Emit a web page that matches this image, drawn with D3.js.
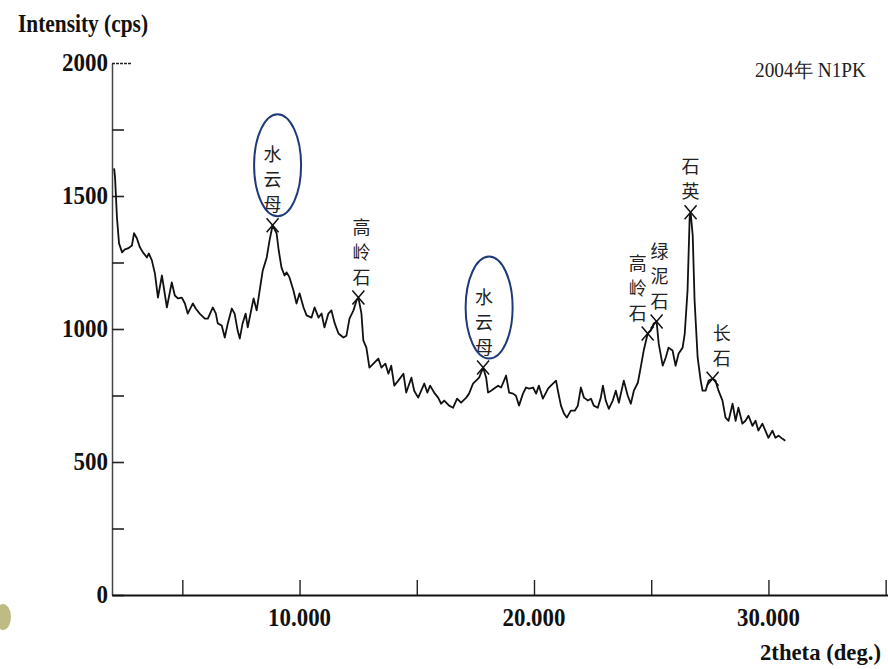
<!DOCTYPE html>
<html>
<head>
<meta charset="utf-8">
<script src="https://cdn.jsdelivr.net/npm/d3@7"></script>
<style>
  body { margin: 0; background: #fff; }
  svg { display: block; }
</style>
</head>
<body>
<div id="chartDIV"></div>
<script>
// 2theta (deg.) and intensity (cps)
var twoTheta = [2.09,2.13,2.21,2.30,2.43,2.55,2.68,2.85,2.94,3.06,3.19,3.32,3.49,3.57,3.70,3.83,3.96,4.13,4.21,4.34,
  4.55,4.68,4.81,4.98,5.11,5.23,5.45,5.57,5.74,5.96,6.09,6.30,6.43,6.51,6.68,6.81,6.94,7.11,7.23,7.36,
  7.45,7.57,7.70,7.79,7.96,8.04,8.17,8.30,8.43,8.60,8.72,8.85,9.02,9.11,9.23,9.36,9.45,9.57,9.74,9.87,
  10.00,10.17,10.30,10.51,10.64,10.81,10.94,11.06,11.23,11.36,11.49,11.66,11.87,12.00,12.13,12.30,12.43,12.51,12.64,12.72,
  12.85,12.98,13.15,13.36,13.49,13.66,13.79,13.91,14.04,14.21,14.43,14.55,14.77,14.89,15.06,15.32,15.45,15.57,15.74,15.91,
  16.04,16.17,16.38,16.55,16.72,16.89,17.11,17.23,17.40,17.53,17.66,17.83,17.96,18.04,18.17,18.30,18.47,18.60,18.81,18.94,
  19.11,19.23,19.36,19.53,19.66,19.79,19.96,20.09,20.21,20.38,20.60,20.72,20.94,21.02,21.15,21.28,21.40,21.57,21.74,21.87,
  22.00,22.13,22.30,22.43,22.55,22.72,22.85,22.94,23.06,23.19,23.36,23.49,23.62,23.83,24.00,24.13,24.26,24.43,24.55,24.68,
  24.85,24.98,25.11,25.23,25.32,25.49,25.62,25.74,25.91,26.04,26.17,26.34,26.43,26.55,26.64,26.68,26.77,26.85,26.98,27.11,
  27.19,27.32,27.45,27.62,27.74,27.87,28.04,28.17,28.30,28.47,28.60,28.72,28.89,29.02,29.15,29.32,29.45,29.57,29.74,29.87,
  30.00,30.17,30.30,30.43,30.60,30.72];
var intensity = [1604,1570,1420,1322,1288,1299,1303,1314,1360,1341,1307,1288,1269,1284,1258,1209,1118,1201,1156,1081,
  1175,1126,1115,1118,1096,1058,1096,1077,1058,1039,1039,1081,1058,1021,1013,968,1021,1077,1058,994,
  964,1021,1058,1006,1081,1115,1070,1145,1220,1269,1333,1390,1360,1296,1231,1201,1213,1194,1145,1096,
  1134,1081,1051,1043,1081,1043,1058,1006,1058,1070,1024,983,968,975,1039,1070,1107,1118,1058,957,
  930,855,870,889,855,870,832,862,787,806,832,761,817,768,742,795,761,787,761,742,
  719,731,712,704,738,723,742,757,795,806,817,855,817,761,768,776,787,780,825,761,
  757,749,712,757,780,776,780,757,787,738,776,787,806,768,712,682,667,693,693,712,
  780,742,731,738,712,704,742,787,731,700,731,768,723,806,749,719,768,798,855,919,
  983,994,1021,1028,945,862,893,930,919,862,908,930,983,1145,1420,1439,1352,1107,893,806,
  768,768,806,813,806,768,731,667,655,719,655,704,644,655,674,636,655,618,644,618,
  591,618,591,599,587,580];

// peak identifications
var peakDeg = [8.85, 12.51, 17.83, 24.85, 25.23, 26.68, 27.62];
var peakI = [1390, 1118, 855, 983, 1028, 1439, 813];
var peakLabels = ["水云母", "高岭石", "水云母", "高岭石", "绿泥石", "石英", "长石"];
var circled = [true, false, true, false, false, false, false];

var yTicks = [0, 250, 500, 750, 1000, 1250, 1500, 1750, 2000];
var yTickLabels = ["0", "", "500", "", "1000", "", "1500", "", "2000"];
var xTicks = [5, 10, 15, 20, 25, 30, 35];
var xTickLabels = ["", "10.000", "", "20.000", "", "30.000", ""];

var width = 888, height = 669;
var svg = d3.select("#chartDIV").append("svg")
  .attr("width", width).attr("height", height);

var x = d3.scaleLinear().domain([2, 35.1]).range([112, 888]);
var y = d3.scaleLinear().domain([0, 2000]).range([595, 63]);

var serif = "'Liberation Serif', 'Times New Roman', serif";
var cjk = "'Noto Sans CJK SC', sans-serif";

// stray smudge bottom-left of the scan
svg.append("ellipse").attr("cx", 3).attr("cy", 617).attr("rx", 8).attr("ry", 13)
  .style("fill", "#a9a45c").style("opacity", 0.75);

// y axis, ticks inward
var yAxis = svg.append("g").attr("transform", "translate(112,0)")
  .call(d3.axisRight(y).tickValues(yTicks).tickSize(12).tickSizeOuter(0).tickFormat(""));
yAxis.select(".domain").style("stroke", "#444").style("stroke-width", 1.5);
yAxis.selectAll(".tick line").style("stroke", "#222").style("stroke-width", 1.6)
  .attr("x2", function(d) { return d == 2000 ? 20 : 12; })
  .style("stroke-dasharray", function(d) { return d == 2000 ? "3,1" : null; });

svg.selectAll("text.ylab")
  .data(yTicks.filter(function(d, i) { return yTickLabels[i] != ""; }))
  .enter().append("text")
  .attr("class", "ylab")
  .attr("x", 108).attr("y", function(d) { return y(d) + 8; })
  .attr("text-anchor", "end")
  .attr("textLength", function(d) { return yTickLabels[yTicks.indexOf(d)].length * 11.5; })
  .attr("lengthAdjust", "spacingAndGlyphs")
  .style("font-family", serif).style("font-size", "25px").style("font-weight", "bold")
  .style("fill", "#111")
  .text(function(d) { return yTickLabels[yTicks.indexOf(d)]; });

// x axis, ticks inward
var xAxis = svg.append("g").attr("transform", "translate(0,595)")
  .call(d3.axisTop(x).tickValues(xTicks).tickSize(15).tickSizeOuter(0).tickFormat(""));
xAxis.select(".domain").style("stroke", "#111").style("stroke-width", 2.2);
xAxis.selectAll(".tick line").style("stroke", "#222").style("stroke-width", 1.4);

svg.selectAll("text.xlab")
  .data(xTicks.filter(function(d, i) { return xTickLabels[i] != ""; }))
  .enter().append("text")
  .attr("class", "xlab")
  .attr("x", function(d) { return x(d); }).attr("y", 626)
  .attr("text-anchor", "middle")
  .attr("textLength", 63)
  .attr("lengthAdjust", "spacingAndGlyphs")
  .style("font-family", serif).style("font-size", "25px").style("font-weight", "bold")
  .style("fill", "#111")
  .text(function(d) { return xTickLabels[xTicks.indexOf(d)]; });

// axis titles
svg.append("text").attr("x", 18).attr("y", 32)
  .attr("textLength", 130).attr("lengthAdjust", "spacingAndGlyphs")
  .style("font-family", serif).style("font-size", "25px").style("font-weight", "bold")
  .style("fill", "#111").text("Intensity (cps)");
svg.append("text").attr("x", 760).attr("y", 660)
  .attr("textLength", 121).attr("lengthAdjust", "spacingAndGlyphs")
  .style("font-family", serif).style("font-size", "24px").style("font-weight", "bold")
  .style("fill", "#111").text("2theta (deg.)");
svg.append("text").attr("x", 755).attr("y", 77)
  .attr("textLength", 111).attr("lengthAdjust", "spacingAndGlyphs")
  .style("font-family", serif).style("font-size", "20px")
  .style("fill", "#222").text("2004年 N1PK");

// the pattern
var pts = twoTheta.map(function(d, i) { return [d, intensity[i]]; });
svg.append("path")
  .datum(pts)
  .attr("d", d3.line().x(function(d) { return x(d[0]); }).y(function(d) { return y(d[1]); }))
  .style("fill", "none").style("stroke", "#111").style("stroke-width", 1.8)
  .style("stroke-linejoin", "round");

// label layout (px offsets from each peak mark)
var labelDx = [0, 3, 1, -10, 3, 0, 9];
var charGap = 25, labelLift = 21;

var peaks = svg.selectAll("g.peak")
  .data(peakDeg)
  .enter().append("g")
  .attr("class", "peak")
  .attr("transform", function(d, i) { return "translate(" + x(d) + "," + y(peakI[i]) + ")"; });

peaks.append("path")
  .attr("d", "M-6,-7L6,7M6,-7L-6,7")
  .style("stroke", "#111").style("stroke-width", 1.5).style("fill", "none");

peaks.each(function(d, i) {
  var g = d3.select(this);
  var chars = peakLabels[i].split("");
  var n = chars.length;
  chars.forEach(function(c, k) {
    g.append("text")
      .attr("x", labelDx[i])
      .attr("y", -labelLift - (n - 1 - k) * charGap + 7)
      .attr("text-anchor", "middle")
      .style("font-family", cjk).style("font-size", "18px")
      .style("fill", "#222")
      .text(c);
  });
  if (circled[i]) {
    g.append("ellipse")
      .attr("cx", labelDx[i] + 5).attr("cy", -labelLift - charGap - 14)
      .attr("rx", 23.5).attr("ry", 51)
      .style("fill", "none").style("stroke", "#1f3a78").style("stroke-width", 2);
  }
});
</script>
</body>
</html>
